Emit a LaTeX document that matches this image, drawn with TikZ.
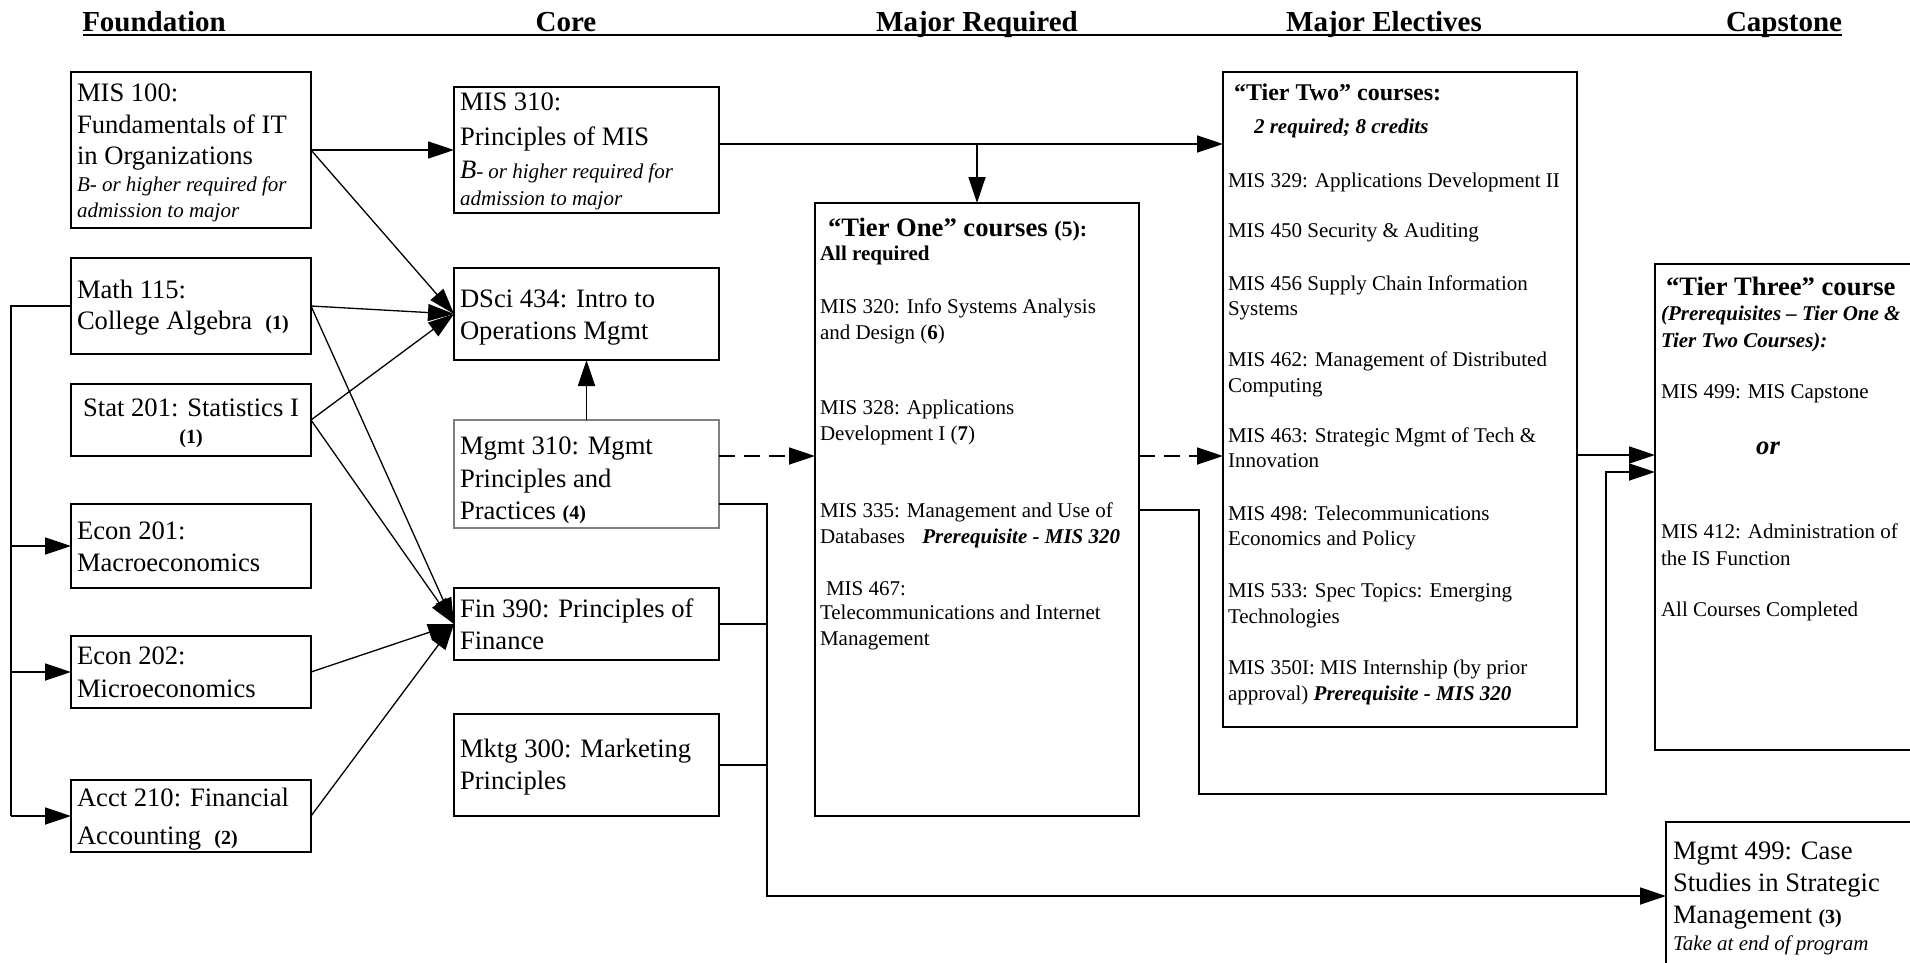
\documentclass[tikz,border=0pt]{standalone}
\usepackage{fontspec}
\setmainfont{Liberation Serif}
\usetikzlibrary{arrows.meta}
\newcounter{tl}
\newcommand\fbig{\fontsize{26.6}{31}\selectfont}
\newcommand\fsm{\fontsize{21}{26}\selectfont}
\newcommand\fnum{\fontsize{20}{24}\selectfont\bfseries}
\newcommand\fhead{\fontsize{29}{34}\selectfont\bfseries}
\newcommand\txl[3]{\stepcounter{tl}\node[txt] (tl\arabic{tl}) at (#1,#2) {#3};}
\newcommand\txc[3]{\stepcounter{tl}\node[txt,anchor=base] (tl\arabic{tl}) at (#1,#2) {#3};}
\newcommand\bx[6]{\node[box,#1,minimum width=#5pt,minimum height=#6pt] (#2) at (#3,#4) {};}
\begin{document}
\begin{tikzpicture}[x=1pt,y=-1pt,
  box/.style={draw=black,line width=1.8pt,anchor=north west,inner sep=0pt,outer sep=0pt},
  txt/.style={anchor=base west,inner sep=0pt,outer sep=0pt},
  ln/.style={line width=1.8pt},
  arr/.style={line width=1.8pt,-{Triangle[length=26pt,width=17pt]}},
  darr/.style={arr,dash pattern=on 16pt off 9pt},
  diag/.style={line width=1.3pt,-{Triangle[length=26pt,width=17pt]}}]
\useasboundingbox (0,0) rectangle (1910,963);
\clip (0,0) rectangle (1910,963);
\fill[white] (0,0) rectangle (1910,963);
% headers
\txc{154}{32}{\fhead Foundation}
\txc{566}{32}{\fhead Core}
\txc{977}{32}{\fhead Major Required}
\txc{1384}{32}{\fhead Major Electives}
\txc{1784}{32}{\fhead Capstone}
\coordinate (hl) at (83,35);
\coordinate (hr) at (1842,35);
\draw[line width=2pt] (hl) -- (hr);
% boxes
\bx{}{mis100}{71}{72}{240}{156}
\bx{}{math}{71}{258}{240}{96}
\bx{}{stat}{71}{384}{240}{72}
\bx{}{econa}{71}{504}{240}{84}
\bx{}{econb}{71}{636}{240}{72}
\bx{}{acct}{71}{780}{240}{72}
\bx{}{mis310}{454}{87}{265}{126}
\bx{}{dsci}{454}{268}{265}{92}
\bx{draw=black!50}{mgmt}{454}{420}{265}{108}
\bx{}{fin}{454}{588}{265}{72}
\bx{}{mktg}{454}{714}{265}{102}
\bx{}{tone}{815}{203}{324}{613}
\bx{}{ttwo}{1223}{72}{354}{655}
\bx{}{tthree}{1655}{264}{290}{486}
\bx{}{mgmtcap}{1666}{822}{280}{170}
% texts: foundation
\txl{77}{102}{\fbig MIS 100:}
\txl{77}{134}{\fbig Fundamentals of IT}
\txl{77}{164}{\fbig in Organizations}
\txl{77}{191}{\fsm\itshape B- or higher required for}
\txl{77}{217}{\fsm\itshape admission to major}
\txl{77}{298}{\fbig Math 115:}
\txl{77}{329}{\fbig College Algebra\ \ {\fnum(1)}}
\txc{191}{416}{\fbig Stat 201: Statistics I}
\txc{191}{443}{\fnum(1)}
\txl{77}{539}{\fbig Econ 201:}
\txl{77}{571}{\fbig Macroeconomics}
\txl{77}{664}{\fbig Econ 202:}
\txl{77}{697}{\fbig Microeconomics}
\txl{77}{806}{\fbig Acct 210: Financial}
\txl{77}{844}{\fbig Accounting\ \ {\fnum(2)}}
% core
\txl{460}{111}{\fbig MIS 310:}
\txl{460}{146}{\fbig Principles of MIS}
\txl{460}{178}{\fsm\itshape{\fbig B}- or higher required for}
\txl{460}{205}{\fsm\itshape admission to major}
\txl{460}{307}{\fbig DSci 434: Intro to}
\txl{460}{339}{\fbig Operations Mgmt}
\txl{460}{454}{\fbig Mgmt 310: Mgmt}
\txl{460}{487}{\fbig Principles and}
\txl{460}{519}{\fbig Practices {\fnum(4)}}
\txl{460}{617}{\fbig Fin 390: Principles of}
\txl{460}{649}{\fbig Finance}
\txl{460}{757}{\fbig Mktg 300: Marketing}
\txl{460}{789}{\fbig Principles}
% tier one
\txl{828}{236}{\fbig\bfseries “Tier One” courses {\fontsize{22}{26}\selectfont(5):}}
\txl{820}{260}{\fsm\bfseries All required}
\txl{820}{313}{\fsm MIS 320: Info Systems Analysis}
\txl{820}{339}{\fsm and Design (\textbf{6})}
\txl{820}{414}{\fsm MIS 328: Applications}
\txl{820}{440}{\fsm Development I (\textbf{7})}
\txl{820}{517}{\fsm MIS 335: Management and Use of}
\txl{820}{543}{\fsm Databases\hspace{12pt} \textbf{\textit{Prerequisite - MIS 320}}}
\txl{826}{595}{\fsm MIS 467:}
\txl{820}{619}{\fsm Telecommunications and Internet}
\txl{820}{645}{\fsm Management}
% tier two
\txl{1234}{101}{\fontsize{24}{28}\selectfont\bfseries “Tier Two” courses:}
\txl{1254}{134}{\fsm\bfseries\itshape 2 required; 8 credits}
\txl{1228}{187}{\fsm MIS 329: Applications Development II}
\txl{1228}{237}{\fsm MIS 450 Security \& Auditing}
\txl{1228}{290}{\fsm MIS 456 Supply Chain Information}
\txl{1228}{315}{\fsm Systems}
\txl{1228}{366}{\fsm MIS 462: Management of Distributed}
\txl{1228}{392}{\fsm Computing}
\txl{1228}{442}{\fsm MIS 463: Strategic Mgmt of Tech \&}
\txl{1228}{467}{\fsm Innovation}
\txl{1228}{520}{\fsm MIS 498: Telecommunications}
\txl{1228}{545}{\fsm Economics and Policy}
\txl{1228}{597}{\fsm MIS 533: Spec Topics: Emerging}
\txl{1228}{623}{\fsm Technologies}
\txl{1228}{674}{\fsm MIS 350I: MIS Internship (by prior}
\txl{1228}{700}{\fsm approval) \textbf{\textit{Prerequisite - MIS 320}}}
% tier three
\txl{1666}{295}{\fbig\bfseries “Tier Three” course}
\txl{1661}{320}{\fsm\bfseries\itshape (Prerequisites -- Tier One \&}
\txl{1661}{347}{\fsm\bfseries\itshape Tier Two Courses):}
\txl{1661}{398}{\fsm MIS 499: MIS Capstone}
\txc{1768}{454}{\fbig\bfseries\itshape or}
\txl{1661}{538}{\fsm MIS 412: Administration of}
\txl{1661}{565}{\fsm the IS Function}
\txl{1661}{616}{\fsm All Courses Completed}
% mgmt 499
\txl{1673}{859}{\fbig Mgmt 499: Case}
\txl{1673}{891}{\fbig Studies in Strategic}
\txl{1673}{923}{\fbig Management {\fnum(3)}}
\txl{1673}{950}{\fsm\itshape Take at end of program}
% routing coordinates
\coordinate (bus) at (11,0);
\coordinate (trunk) at (767,0);
\coordinate (ra) at (1199,0);
\coordinate (rb) at (1606,0);
\coordinate (yA) at (0,144);
\coordinate (yD) at (0,456);
\coordinate (yM) at (0,504);
\coordinate (yT) at (0,510);
\coordinate (yL) at (0,794);
\coordinate (yE) at (0,455);
\coordinate (yF) at (0,472);
\coordinate (yG) at (0,896);
% connectors
\draw[arr] (mis100.east) -- (mis310.west);
\draw[diag] (mis100.east) -- (dsci.west);
\draw[diag] (math.east) -- (dsci.west);
\draw[diag] (stat.east) -- (dsci.west);
\draw[diag] (math.east) -- (fin.west);
\draw[diag] (stat.east) -- (fin.west);
\draw[diag] (econb.east) -- (fin.west);
\draw[diag] (acct.east) -- (fin.west);
\draw[ln] (math.west) -- (math.west -| bus) -- (acct.west -| bus);
\draw[arr] (econa.west -| bus) -- (econa.west);
\draw[arr] (econb.west -| bus) -- (econb.west);
\draw[arr] (acct.west -| bus) -- (acct.west);
\draw[arr] (mgmt.north) -- (dsci.south);
\draw[arr] (mis310.east |- yA) -- (ttwo.west |- yA);
\draw[arr] (tone.north |- yA) -- (tone.north);
\draw[darr] (mgmt.east |- yD) -- (tone.west |- yD);
\draw[darr] (tone.east |- yD) -- (ttwo.west |- yD);
\draw[arr] (mgmt.east |- yM) -- (trunk |- yM) -- (trunk |- yG) -- (mgmtcap.west |- yG);
\draw[ln] (fin.east) -- (fin.east -| trunk);
\draw[ln] (mktg.east) -- (mktg.east -| trunk);
\draw[arr] (tone.east |- yT) -- (ra |- yT) -- (ra |- yL) -- (rb |- yL) -- (rb |- yF) -- (tthree.west |- yF);
\draw[arr] (ttwo.east |- yE) -- (tthree.west |- yE);
\end{tikzpicture}
\end{document}
